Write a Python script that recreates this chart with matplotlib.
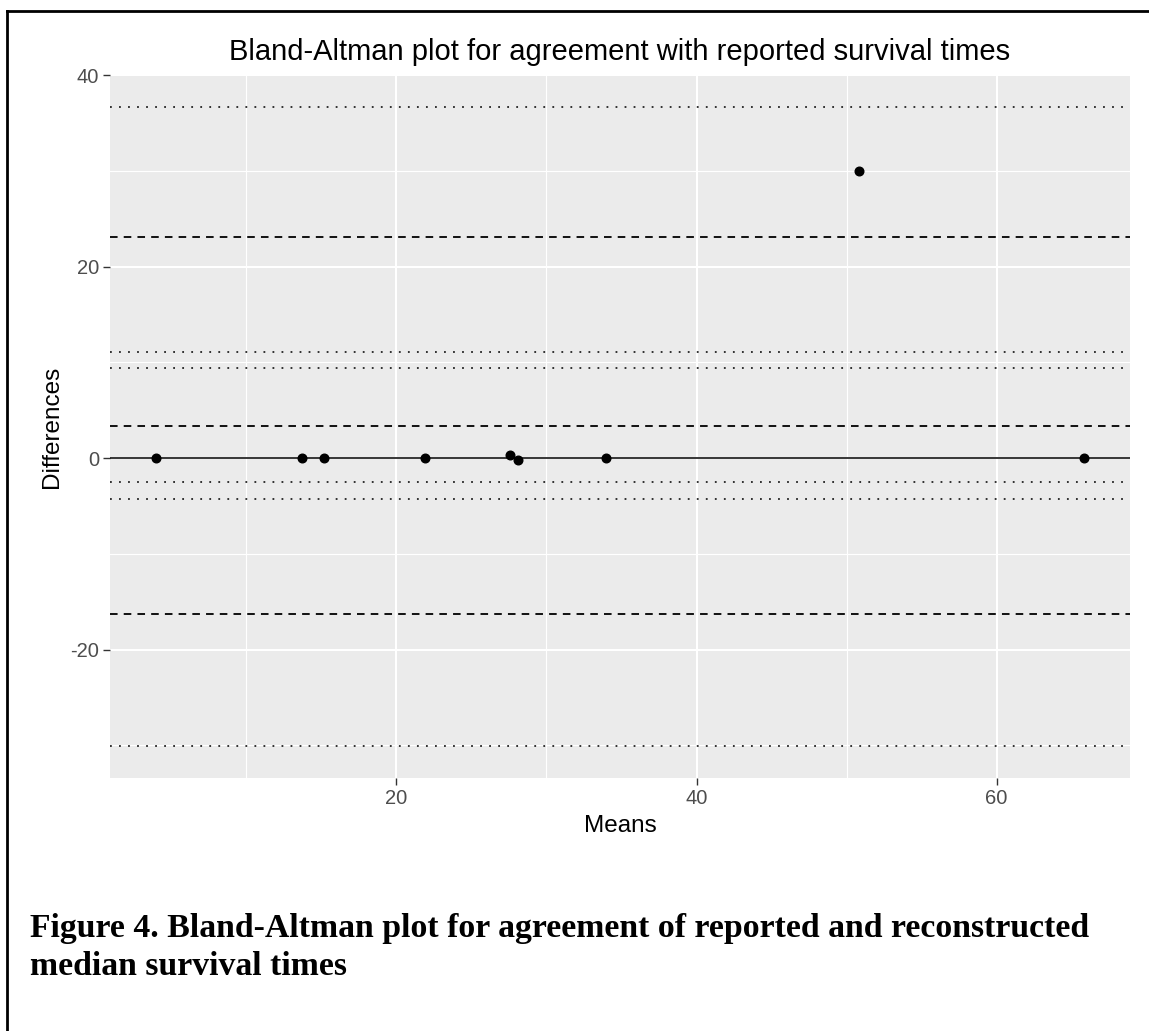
import numpy as np
import matplotlib.pyplot as plt
from matplotlib.lines import Line2D

plt.rcParams['font.family'] = ['Liberation Sans', 'DejaVu Sans']
plt.rcParams['axes.unicode_minus'] = False

# means and differences of reported vs reconstructed median survival
means = [4.0, 13.7, 15.2, 21.9, 27.6, 28.1, 34.0, 50.8, 65.8]
diffs = [0.0, 0.0, 0.0, 0.0, 0.3, -0.25, 0.0, 30.0, 0.0]

# limits of agreement and mean difference (dashed), their CIs (dotted)
dashed_y = [23.07, 3.31, -16.33]
dotted_y = [36.63, 11.03, 9.40, -2.54, -4.27, -30.08]

xticks = [20, 40, 60]
yticks = [-20, 0, 20, 40]

W, H = 1149, 1031
fig = plt.figure(figsize=(W / 100, H / 100), dpi=100)
ax = fig.add_axes([110 / W, 1 - 778 / H, 1020 / W, 703 / H])
ax.set_facecolor('#EBEBEB')

# ggplot style 5% expansion of the data range
xr = max(means) - min(means)
ax.set_xlim(min(means) - 0.05 * xr, max(means) + 0.05 * xr)
ally = dotted_y + dashed_y + diffs
yr = max(ally) - min(ally)
ax.set_ylim(min(ally) - 0.05 * yr, max(ally) + 0.05 * yr)

# grid
for v in [10, 30, 50]:
    ax.axvline(v, color='white', lw=0.8, zorder=0)
for v in [-30, -10, 10, 30]:
    ax.axhline(v, color='white', lw=0.8, zorder=0)
for v in xticks:
    ax.axvline(v, color='white', lw=1.5, zorder=0)
for v in yticks:
    ax.axhline(v, color='white', lw=1.5, zorder=0)

for y in dotted_y:
    ax.axhline(y, color='#222222', lw=1.3, linestyle=(0, (1.0, 4.0)), zorder=2)
for y in dashed_y:
    ax.axhline(y, color='black', lw=1.3, linestyle=(0, (4.2, 3.4)), zorder=2)
ax.axhline(0, color='black', lw=1.1, zorder=2)

ax.plot(means, diffs, 'o', color='black', markersize=6.2, zorder=3)

ax.set_xticks(xticks)
ax.set_yticks(yticks)
ax.tick_params(axis='both', length=5, width=1.0, color='#333333',
               labelcolor='#4D4D4D', labelsize=14.5, pad=3)
for s in ax.spines.values():
    s.set_visible(False)

ax.set_xlabel('Means', fontsize=17.5, labelpad=5)
ax.set_ylabel('Differences', fontsize=17.5, labelpad=5)
ax.set_title('Bland-Altman plot for agreement with reported survival times',
             fontsize=21, pad=11)

# caption
fig.text(30 / W, 1 - 937 / H,
         'Figure 4. Bland-Altman plot for agreement of reported and reconstructed',
         fontsize=24.3, fontweight='bold', family='Liberation Serif', va='baseline')
fig.text(30 / W, 1 - 975 / H, 'median survival times',
         fontsize=24.3, fontweight='bold', family='Liberation Serif', va='baseline')

# page border (top and left only)
fig.add_artist(Line2D([7 / W, 1], [1 - 11 / H, 1 - 11 / H], color='black', lw=2))
fig.add_artist(Line2D([7 / W, 7 / W], [1 - 11 / H, 0], color='black', lw=2))

fig.savefig('out.png', dpi=100)
